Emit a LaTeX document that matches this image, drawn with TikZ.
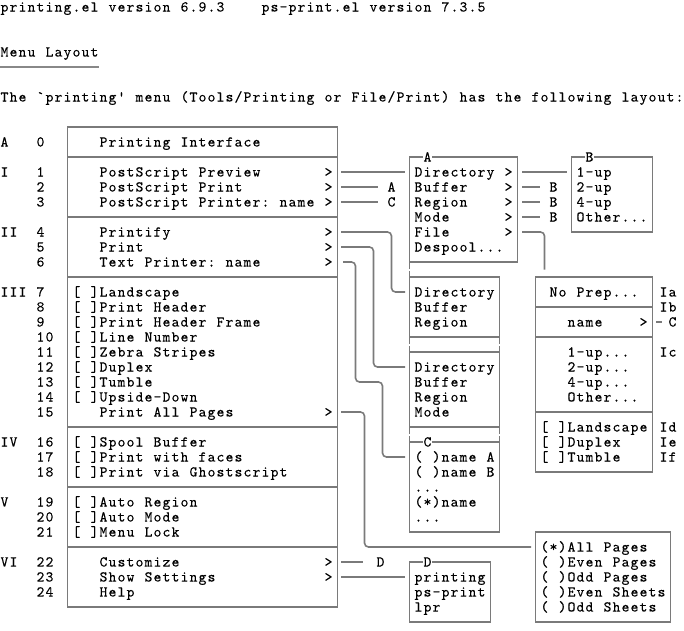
\documentclass[tikz,border=0pt]{standalone}
\usepackage{fontspec}
\newfontfamily\cmono{lmmono10-regular.otf}[FakeBold=0.2]
\usetikzlibrary{calc}
\definecolor{ln}{RGB}{122,122,122}
\definecolor{ul}{RGB}{136,136,136}
\ExplSyntaxOn
\cs_new_protected:Npn \monocells #1
  { \exp_args:Nx \str_map_inline:nn {#1} { \hbox_to_wd:nn {9pt} { \hss ##1 \hss } } }
\ExplSyntaxOff
\newcommand\Tx[4]{\node[txt] (#1) at ({9*(#2)},{146.5+15*(#3)}) {\monocells{#4}};}
\newcommand\Bx[5]{\node[box,minimum width={9*((#4)-(#2))},minimum height={15*((#5)-(#3))}] (#1) at ({4.5+9*((#2)+(#4))/2},{142+15*((#3)+(#5))/2}) {};}
\begin{document}
\begin{tikzpicture}[x=1pt,y=-1pt,
  txt/.style={anchor=base west,inner sep=0pt,outer sep=0pt,text=black,font=\fontsize{15}{15}\selectfont\cmono},
  ttl/.style={txt,fill=white},
  box/.style={draw=ln,line width=1.6pt,inner sep=0pt,outer sep=0pt,rectangle},
  conn/.style={draw=ln,line width=1.6pt,rounded corners=4pt},
]
\useasboundingbox (0,0) rectangle (684,630);
\foreach \r in {-9,...,32} \coordinate (row\r) at (0,{142+15*\r});

% ---------- header ----------
\Tx{h1}{0}{-9}{printing.el version 6.9.3}
\Tx{h2}{29}{-9}{ps-print.el version 7.3.5}
\Tx{h3}{0}{-6}{Menu Layout}
\draw[ul,line width=2.2pt] (h3.west|-row-5) -- (h3.east|-row-5);
\Tx{h4}{0}{-3}{The `printing' menu (Tools/Printing or File/Print) has the following layout:}

% ---------- boxes ----------
\Bx{main}{7}{-1}{37}{31}
\Bx{boxA}{45}{1}{57}{8}
\Bx{boxB}{63}{1}{72}{6}
\Bx{boxDa}{45}{9}{55}{13}
\Bx{boxDb}{45}{14}{55}{19}
\Bx{boxC}{45}{20}{55}{26}
\Bx{boxD}{45}{28}{54}{32}
\Bx{boxNP}{59}{9}{72}{22}
\Bx{boxAll}{59}{26}{74}{32}
\foreach \r in {1,5,9,19,23,27} \draw[conn] (main.west|-row\r) -- (main.east|-row\r);
\foreach \r in {11,13,18} \draw[conn] (boxNP.west|-row\r) -- (boxNP.east|-row\r);
% joins between stacked boxes
\draw[conn] (boxA.south west) -- ++(0,6.5);
\draw[conn] (boxDa.north west) -- ++(0,-6.5);
\foreach \a in {west,east} {
  \draw[conn] (boxDa.south \a) -- ++(0,6.5);
  \draw[conn] (boxDb.north \a) -- ++(0,-6.5);
  \draw[conn] (boxDb.south \a) -- ++(0,6.5);
  \draw[conn] (boxC.north \a) -- ++(0,-6.5);
}

% ---------- left labels ----------
\Tx{lA}{0}{0}{A}\Tx{n0}{4}{0}{0}
\Tx{lI}{0}{2}{I}
\Tx{lII}{0}{6}{II}
\Tx{lIII}{0}{10}{III}
\Tx{lIV}{0}{20}{IV}
\Tx{lV}{0}{24}{V}
\Tx{lVI}{0}{28}{VI}
\foreach \n in {1,2,3} {\pgfmathtruncatemacro\r{\n+1}\Tx{n\n}{4}{\r}{\n}}
\foreach \n in {4,5,6} {\pgfmathtruncatemacro\r{\n+2}\Tx{n\n}{4}{\r}{\n}}
\foreach \n in {7,...,15} {\pgfmathtruncatemacro\r{\n+3}\Tx{n\n}{4}{\r}{\n}}
\foreach \n in {16,17,18} {\pgfmathtruncatemacro\r{\n+4}\Tx{n\n}{4}{\r}{\n}}
\foreach \n in {19,20,21} {\pgfmathtruncatemacro\r{\n+5}\Tx{n\n}{4}{\r}{\n}}
\foreach \n in {22,23,24} {\pgfmathtruncatemacro\r{\n+6}\Tx{n\n}{4}{\r}{\n}}

% ---------- main menu ----------
\Tx{m0}{11}{0}{Printing Interface}
\Tx{m1}{11}{2}{PostScript Preview}
\Tx{m2}{11}{3}{PostScript Print}
\Tx{m3}{11}{4}{PostScript Printer: name}
\Tx{m4}{11}{6}{Printify}
\Tx{m5}{11}{7}{Print}
\Tx{m6}{11}{8}{Text Printer: name}
\Tx{m7}{8}{10}{[ ]Landscape}
\Tx{m8}{8}{11}{[ ]Print Header}
\Tx{m9}{8}{12}{[ ]Print Header Frame}
\Tx{m10}{8}{13}{[ ]Line Number}
\Tx{m11}{8}{14}{[ ]Zebra Stripes}
\Tx{m12}{8}{15}{[ ]Duplex}
\Tx{m13}{8}{16}{[ ]Tumble}
\Tx{m14}{8}{17}{[ ]Upside-Down}
\Tx{m15}{11}{18}{Print All Pages}
\Tx{m16}{8}{20}{[ ]Spool Buffer}
\Tx{m17}{8}{21}{[ ]Print with faces}
\Tx{m18}{8}{22}{[ ]Print via Ghostscript}
\Tx{m19}{8}{24}{[ ]Auto Region}
\Tx{m20}{8}{25}{[ ]Auto Mode}
\Tx{m21}{8}{26}{[ ]Menu Lock}
\Tx{m22}{11}{28}{Customize}
\Tx{m23}{11}{29}{Show Settings}
\Tx{m24}{11}{30}{Help}
\foreach \r in {2,3,4,6,7,8,18,28,29} {\Tx{gt\r}{36}{\r}{>}}

% ---------- box A ----------
\node[ttl] (tA) at ({9*47},{146.5+15*1}) {\monocells{A}};
\Tx{a1}{46}{2}{Directory}
\Tx{a2}{46}{3}{Buffer}
\Tx{a3}{46}{4}{Region}
\Tx{a4}{46}{5}{Mode}
\Tx{a5}{46}{6}{File}
\Tx{a6}{46}{7}{Despool...}
\foreach \r in {2,...,6} {\Tx{agt\r}{56}{\r}{>}}

% ---------- box B ----------
\node[ttl] (tB) at ({9*65},{146.5+15*1}) {\monocells{B}};
\Tx{b1}{64}{2}{1-up}
\Tx{b2}{64}{3}{2-up}
\Tx{b3}{64}{4}{4-up}
\Tx{b4}{64}{5}{Other...}

% ---------- directory boxes ----------
\Tx{da1}{46}{10}{Directory}
\Tx{da2}{46}{11}{Buffer}
\Tx{da3}{46}{12}{Region}
\Tx{db1}{46}{15}{Directory}
\Tx{db2}{46}{16}{Buffer}
\Tx{db3}{46}{17}{Region}
\Tx{db4}{46}{18}{Mode}

% ---------- box C ----------
\node[ttl] (tC) at ({9*47},{146.5+15*20}) {\monocells{C}};
\Tx{c1}{46}{21}{( )name A}
\Tx{c2}{46}{22}{( )name B}
\Tx{c3}{46}{23}{...}
\Tx{c4}{46}{24}{(*)name}
\Tx{c5}{46}{25}{...}

% ---------- box D ----------
\node[ttl] (tD) at ({9*47},{146.5+15*28}) {\monocells{D}};
\Tx{d1}{46}{29}{printing}
\Tx{d2}{46}{30}{ps-print}
\Tx{d3}{46}{31}{lpr}

% ---------- No Prep box ----------
\Tx{np1}{61}{10}{No Prep...}
\Tx{np2}{63}{12}{name}
\Tx{npgt}{71}{12}{>}
\Tx{np3}{63}{14}{1-up...}
\Tx{np4}{63}{15}{2-up...}
\Tx{np5}{63}{16}{4-up...}
\Tx{np6}{63}{17}{Other...}
\Tx{np7}{60}{19}{[ ]Landscape}
\Tx{np8}{60}{20}{[ ]Duplex}
\Tx{np9}{60}{21}{[ ]Tumble}
\node[txt] (Ia) at (659,{146.5+15*10}) {\monocells{Ia}};
\node[txt] (Ib) at (659,{146.5+15*11}) {\monocells{Ib}};
\node[txt] (lbNC) at (668,{146.5+15*12}) {\monocells{C}};
\node[txt] (Ic) at (659,{146.5+15*14}) {\monocells{Ic}};
\node[txt] (Id) at (659,{146.5+15*19}) {\monocells{Id}};
\node[txt] (Ie) at (659,{146.5+15*20}) {\monocells{Ie}};
\node[txt] (If) at (659,{146.5+15*21}) {\monocells{If}};

% ---------- pages box ----------
\Tx{p1}{60}{27}{(*)All Pages}
\Tx{p2}{60}{28}{( )Even Pages}
\Tx{p3}{60}{29}{( )Odd Pages}
\Tx{p4}{60}{30}{( )Even Sheets}
\Tx{p5}{60}{31}{( )Odd Sheets}

% ---------- connector labels ----------
\Tx{lbA}{43}{3}{A}
\Tx{lbC}{43}{4}{C}
\Tx{lbB1}{61}{3}{B}
\Tx{lbB2}{61}{4}{B}
\Tx{lbB3}{61}{5}{B}
\node[txt] (lbD) at (376,{146.5+15*28}) {\monocells{D}};

% ---------- connectors ----------
\draw[conn] ($(main.east|-row2)+(3.5,0)$) -- ($(boxA.west|-row2)+(-4.5,0)$);
\draw[conn] ($(main.east|-row3)+(3.5,0)$) -- ($(lbA.west|-row3)+(-9,0)$);
\draw[conn] ($(main.east|-row4)+(3.5,0)$) -- ($(lbC.west|-row4)+(-9,0)$);
\draw[conn] ($(boxA.east|-row2)+(4.5,0)$) -- ($(boxB.west|-row2)+(-4.5,0)$);
\foreach \r/\n in {3/1,4/2,5/3}
  \draw[conn] ($(boxA.east|-row\r)+(4.5,0)$) -- ($(lbB\n.west|-row\r)+(-9,0)$);
\draw[conn] ($(boxA.east|-row6)+(4.5,0)$) -- ($(boxA.east|-row6)+(27,0)$)
  -- ($(boxA.east|-boxNP.north)+(27,-7.5)$);
\draw[conn] ($(main.east|-row6)+(3.5,0)$) -- ($(boxDa.west|-row6)+(-18,0)$)
  -- ($(boxDa.west|-row10)+(-18,0)$) -- ($(boxDa.west|-row10)+(-4.5,0)$);
\draw[conn] ($(main.east|-row7)+(3.5,0)$) -- ($(boxDb.west|-row7)+(-36,0)$)
  -- ($(boxDb.west|-row15)+(-36,0)$) -- ($(boxDb.west|-row15)+(-4.5,0)$);
\draw[conn] ($(main.east|-row8)+(5.5,0)$) -- ($(boxC.west|-row8)+(-54,0)$)
  -- ($(boxC.west|-row16)+(-54,0)$) -- ($(boxC.west|-row16)+(-27,0)$)
  -- ($(boxC.west|-row21)+(-27,0)$) -- ($(boxC.west|-row21)+(-4.5,0)$);
\draw[conn] ($(main.east|-row18)+(3.5,0)$) -- ($(main.east|-row18)+(27,0)$)
  -- ($(main.east|-row27)+(27,0)$) -- ($(boxAll.west|-row27)+(-4.5,0)$);
\draw[conn] ($(main.east|-row28)+(3.5,0)$) -- ($(lbD.west|-row28)+(-13,0)$);
\draw[conn] ($(main.east|-row29)+(3.5,0)$) -- ($(boxD.west|-row29)+(-4.5,0)$);
\draw[conn] ($(boxNP.east|-row12)+(3.5,0)$) -- ($(lbNC.west|-row12)+(-6,0)$);
\end{tikzpicture}
\end{document}
